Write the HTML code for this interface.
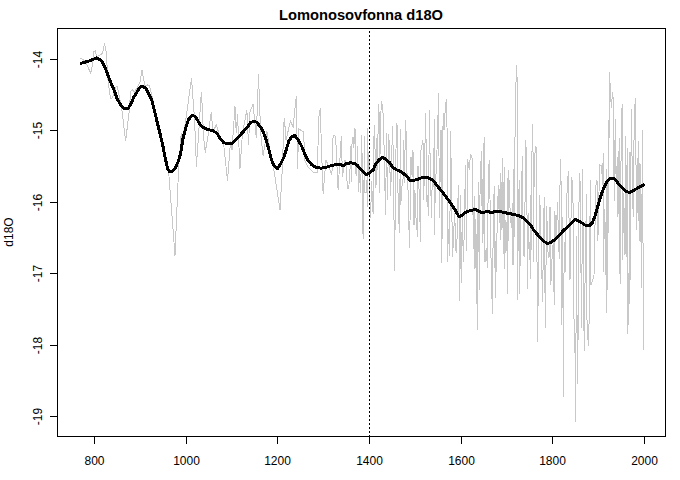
<!DOCTYPE html>
<html><head><meta charset="utf-8"><style>
html,body{margin:0;padding:0;background:#fff;}
svg{display:block;font-family:"Liberation Sans",sans-serif;font-size:12px;}
</style></head><body>
<svg width="680" height="480" viewBox="0 0 680 480">
<text x="361" y="20" text-anchor="middle" font-weight="bold" font-size="14.7">Lomonosovfonna d18O</text>
<text transform="translate(13 232) rotate(-90)" text-anchor="middle">d18O</text>
<text x="94.5" y="465" text-anchor="middle">800</text><text x="186.5" y="465" text-anchor="middle">1000</text><text x="277.5" y="465" text-anchor="middle">1200</text><text x="369.5" y="465" text-anchor="middle">1400</text><text x="461.5" y="465" text-anchor="middle">1600</text><text x="552.5" y="465" text-anchor="middle">1800</text><text x="644.5" y="465" text-anchor="middle">2000</text>
<text transform="translate(41.9 59.5) rotate(-90)" text-anchor="middle">-14</text><text transform="translate(41.9 130.5) rotate(-90)" text-anchor="middle">-15</text><text transform="translate(41.9 202.5) rotate(-90)" text-anchor="middle">-16</text><text transform="translate(41.9 273.5) rotate(-90)" text-anchor="middle">-17</text><text transform="translate(41.9 345.5) rotate(-90)" text-anchor="middle">-18</text><text transform="translate(41.9 416.5) rotate(-90)" text-anchor="middle">-19</text>
<path d="M80.30 58.1 L84.00 60.3 L86.00 63.0 L90.70 73.1 L92.80 63.0 L94.00 51.5 L95.30 50.6 L96.60 56.5 L99.00 55.6 L102.30 53.5 L103.60 48.5 L104.40 43.5 L105.70 48.5 L106.50 55.2 L107.00 65.0 L108.10 81.2 L110.60 98.8 L112.50 97.5 L116.25 86.2 L117.50 86.9 L119.40 97.5 L121.90 110.0 L125.60 141.0 L129.40 110.0 L130.60 91.2 L132.50 90.0 L134.40 92.5 L140.00 82.5 L141.90 70.0 L143.10 76.2 L145.00 86.2 L147.50 85.0 L149.40 85.6 L151.25 92.5 L153.10 100.0 L155.00 110.0 L157.00 120.0 L160.00 134.0 L163.00 148.0 L165.50 160.0 L168.75 173.0 L175.00 255.6 L178.75 165.0 L180.00 150.0 L181.25 133.0 L181.90 141.0 L183.00 135.0 L185.00 125.0 L187.30 109.0 L191.50 78.3 L194.60 120.0 L196.40 166.4 L198.50 136.0 L201.30 92.1 L202.30 107.5 L203.50 136.0 L205.20 152.2 L208.00 136.0 L211.25 112.5 L213.10 132.5 L216.25 124.4 L219.30 135.0 L223.75 145.0 L227.50 180.6 L230.50 142.0 L232.00 150.0 L235.00 106.2 L236.25 132.5 L237.50 115.0 L240.00 168.8 L242.50 132.5 L246.90 110.0 L248.50 145.0 L250.00 112.0 L253.10 103.8 L256.25 137.5 L258.50 75.0 L260.60 132.5 L263.10 156.2 L266.90 131.2 L270.00 150.0 L273.75 168.8 L280.00 210.0 L282.50 165.0 L283.75 125.0 L284.40 118.1 L286.00 140.0 L290.60 120.6 L293.10 127.5 L296.25 96.2 L297.50 168.8 L298.75 128.8 L303.50 131.9 L305.00 161.0 L307.50 166.2 L313.75 172.5 L317.50 173.0 L318.50 120.0 L320.25 108.1 L321.25 141.2 L323.10 193.8 L326.00 160.0 L331.90 175.0 L333.10 135.0 L335.60 136.2 L338.10 190.0 L341.25 136.9 L342.50 176.9 L345.00 160.0 L346.00 163.5 L347.50 188.8 L348.75 188.1 L349.96 171.1 L350.60 146.9 L351.36 181.5 L352.12 138.2 L353.08 137.4 L353.75 148.0 L355.00 128.1 L355.86 173.5 L356.67 175.6 L357.50 146.9 L358.75 191.2 L359.60 165.9 L360.60 192.5 L361.90 135.0 L362.50 230.0 L363.50 238.8 L364.40 136.9 L365.00 192.5 L366.00 192.5 L366.90 192.5 L367.50 128.1 L367.50 206.2 L368.15 163.7 L368.86 152.3 L369.58 190.8 L370.60 217.5 L371.56 181.4 L373.10 213.8 L373.75 143.0 L374.40 125.0 L376.00 187.5 L376.50 139.0 L377.45 169.9 L378.50 104.4 L379.40 118.0 L379.40 192.5 L380.60 118.0 L381.50 101.9 L382.50 106.9 L383.50 118.0 L384.52 171.6 L385.60 214.4 L386.50 133.8 L387.50 200.0 L388.50 134.8 L389.37 144.2 L390.54 195.4 L391.27 174.5 L392.50 126.2 L393.59 164.8 L394.40 270.6 L395.63 189.3 L396.25 123.8 L397.50 126.2 L398.10 205.0 L399.40 232.5 L400.60 129.4 L400.80 204.4 L402.23 182.6 L402.99 179.7 L403.75 140.0 L404.36 183.0 L405.60 120.0 L406.00 130.0 L406.86 173.1 L407.65 174.8 L408.90 226.2 L409.60 247.4 L411.00 157.0 L412.16 177.1 L413.00 150.0 L413.99 225.2 L414.92 190.0 L416.10 220.4 L417.60 236.5 L418.00 165.6 L419.39 197.2 L420.50 241.6 L421.00 150.0 L423.00 140.6 L423.67 199.9 L424.76 156.7 L425.60 113.1 L426.00 137.5 L426.65 201.7 L427.30 195.2 L428.50 216.0 L429.40 110.0 L430.00 151.9 L431.50 217.5 L432.22 179.6 L432.98 188.5 L434.00 148.8 L434.40 119.0 L434.40 235.0 L435.11 197.5 L436.11 172.0 L437.50 137.5 L438.50 93.1 L439.50 217.5 L440.14 173.9 L441.00 130.0 L441.50 262.5 L442.40 222.7 L443.10 113.1 L444.00 130.0 L445.60 103.8 L446.50 100.0 L447.50 153.0 L447.50 261.5 L448.44 229.5 L449.70 255.4 L450.60 131.9 L451.74 204.6 L452.60 257.0 L453.99 226.3 L454.75 213.2 L455.80 250.0 L456.25 252.5 L457.20 235.3 L458.30 185.0 L458.75 185.0 L459.70 300.3 L460.80 195.0 L461.30 282.5 L462.30 215.9 L463.40 261.5 L464.66 218.0 L465.30 165.0 L466.70 250.8 L467.50 159.2 L469.20 169.2 L470.50 154.2 L472.50 159.2 L473.30 248.3 L474.20 196.7 L475.00 269.0 L475.83 219.7 L476.70 288.3 L477.50 329.7 L478.15 181.9 L479.50 290.0 L480.00 195.0 L481.30 151.7 L482.50 242.5 L483.30 143.3 L484.20 258.3 L484.50 137.0 L485.00 261.7 L486.15 248.7 L487.50 267.5 L488.30 168.3 L489.50 160.8 L490.36 225.7 L491.70 290.0 L492.50 313.3 L493.16 230.1 L494.20 186.7 L495.30 297.5 L495.80 241.7 L496.30 271.7 L497.15 226.3 L498.30 185.8 L499.43 222.7 L500.14 182.5 L500.80 173.3 L500.80 240.0 L502.50 158.3 L503.20 253.3 L504.20 167.5 L504.20 268.3 L505.02 219.9 L505.89 253.0 L506.89 234.8 L507.50 178.3 L507.50 293.3 L508.70 170.8 L509.76 202.9 L510.71 222.3 L511.86 217.1 L512.50 264.2 L513.30 169.2 L513.30 264.2 L514.20 230.0 L515.00 136.7 L516.30 65.8 L517.50 85.0 L517.50 299.2 L518.34 219.5 L519.20 180.8 L519.20 293.3 L520.20 260.0 L521.70 180.0 L522.50 156.7 L523.30 255.0 L524.30 256.7 L525.80 140.8 L526.70 168.3 L527.50 288.3 L528.42 213.8 L529.20 260.0 L529.81 253.4 L530.80 195.8 L530.80 278.3 L531.70 168.3 L532.50 124.2 L533.30 168.0 L533.30 261.7 L534.20 169.2 L535.30 146.7 L536.30 147.5 L537.50 341.7 L539.06 234.4 L539.70 195.0 L540.55 221.9 L541.31 245.7 L542.50 301.7 L544.20 197.5 L545.30 327.5 L546.70 206.7 L547.42 239.9 L548.30 258.0 L549.09 256.6 L550.00 206.7 L550.80 285.0 L552.26 254.3 L553.25 241.6 L554.20 304.2 L554.90 211.1 L555.98 241.5 L557.50 203.0 L559.20 258.3 L560.30 159.2 L561.30 190.0 L561.30 324.7 L562.61 217.4 L563.40 396.5 L564.17 242.3 L565.00 273.3 L566.02 228.8 L566.70 198.3 L568.30 171.7 L570.00 280.0 L571.70 177.5 L572.50 183.3 L573.46 220.6 L574.20 352.5 L575.00 352.5 L575.50 421.5 L576.57 236.5 L577.40 383.5 L578.30 320.0 L579.20 173.3 L580.80 187.5 L580.80 256.0 L581.70 327.5 L582.50 170.0 L584.20 350.8 L585.54 239.3 L586.70 194.2 L586.70 313.3 L588.30 345.8 L589.20 318.3 L590.30 180.8 L590.80 180.8 L591.00 285.0 L592.50 280.8 L594.00 275.0 L595.80 186.7 L596.70 180.8 L597.00 180.8 L597.50 240.8 L598.29 232.6 L599.50 164.2 L600.80 165.8 L601.70 165.0 L602.39 184.2 L603.30 153.3 L603.30 271.7 L604.65 209.5 L605.80 248.3 L606.30 312.5 L606.70 169.2 L607.50 289.2 L608.30 120.8 L608.30 232.5 L609.50 73.0 L611.30 107.5 L612.50 93.0 L613.30 100.0 L614.20 200.8 L615.30 119.2 L616.10 180.8 L617.50 157.5 L617.50 216.7 L618.11 213.8 L619.20 138.0 L619.20 250.0 L620.30 283.3 L621.30 113.3 L622.50 104.2 L622.50 260.0 L623.74 193.8 L625.00 255.0 L625.80 136.7 L626.70 256.7 L627.50 148.3 L627.50 333.6 L628.30 273.3 L628.70 325.0 L629.50 272.5 L630.00 151.7 L630.00 280.0 L630.70 206.6 L631.30 109.2 L632.70 200.3 L633.30 216.7 L634.20 120.8 L635.30 98.3 L636.70 230.0 L638.30 141.7 L639.20 240.8 L640.00 163.3 L640.80 210.0 L641.30 287.5 L642.50 130.8 L643.50 349.6" fill="none" stroke="#c8c8c8" stroke-width="1" stroke-linejoin="round" shape-rendering="crispEdges"/>
<path d="M81.0 63.3 L82.5 62.9 L88.8 61.0 L93.1 59.4 L96.5 57.9 L98.8 59.0 L101.9 61.5 L104.4 66.2 L106.9 72.3 L109.4 79.0 L111.9 85.0 L114.4 91.0 L116.9 98.1 L120.0 103.9 L123.0 107.8 L125.5 109.0 L128.2 108.4 L131.2 103.5 L133.8 97.0 L137.5 91.2 L140.6 86.5 L143.8 86.9 L146.2 88.6 L148.8 93.8 L151.9 100.6 L153.8 108.0 L156.3 118.5 L159.0 129.5 L162.4 143.5 L165.3 158.1 L167.5 168.3 L169.7 172.0 L172.6 171.0 L175.5 167.6 L178.4 161.0 L180.6 153.8 L182.8 139.2 L185.7 128.2 L188.6 119.5 L191.6 115.8 L194.5 116.1 L196.7 118.8 L199.6 123.9 L203.5 127.6 L207.5 129.3 L212.5 130.6 L216.9 133.1 L220.0 138.5 L223.8 142.8 L228.1 143.8 L232.5 143.1 L236.2 139.4 L240.0 135.2 L243.8 131.2 L247.5 126.9 L250.6 122.5 L253.8 121.5 L256.9 122.2 L259.4 125.6 L262.5 130.0 L265.0 136.5 L267.2 143.5 L269.3 151.0 L271.5 160.0 L274.4 166.2 L277.5 168.8 L280.6 163.8 L283.8 157.5 L286.2 150.0 L288.8 141.2 L291.2 137.5 L294.4 135.2 L296.9 138.1 L300.0 143.1 L302.5 148.1 L305.0 154.4 L308.1 160.5 L311.9 165.0 L316.2 167.5 L321.2 168.2 L326.2 167.2 L331.2 165.6 L336.2 164.4 L340.5 164.6 L343.1 165.6 L346.2 163.8 L350.0 162.9 L354.4 163.1 L357.5 165.6 L361.2 169.4 L365.0 173.8 L366.9 174.4 L370.0 172.5 L373.1 170.0 L375.6 164.4 L378.8 160.0 L382.5 157.5 L385.6 158.8 L389.4 162.5 L393.1 167.5 L396.9 170.0 L400.0 171.2 L403.8 173.8 L407.5 176.9 L410.0 180.8 L414.0 180.2 L418.8 178.9 L422.5 177.5 L426.2 177.2 L430.0 178.5 L433.8 181.2 L437.5 186.2 L441.2 190.6 L445.0 195.6 L448.8 200.6 L452.5 206.2 L455.6 210.6 L458.8 216.5 L461.9 215.5 L465.6 212.5 L470.0 210.6 L475.6 209.4 L478.8 211.2 L482.5 212.8 L486.9 211.5 L491.2 212.3 L494.4 211.9 L498.8 211.2 L503.8 212.5 L508.8 213.5 L513.8 214.4 L518.8 215.6 L522.5 217.5 L526.2 220.6 L530.0 224.4 L533.8 230.2 L537.5 234.6 L541.2 238.5 L544.0 241.5 L547.5 243.4 L551.0 242.5 L555.0 239.3 L558.8 235.9 L562.5 231.5 L566.2 228.0 L570.0 224.7 L575.0 219.2 L580.0 221.7 L585.0 225.0 L589.2 225.8 L592.5 222.5 L595.0 215.8 L597.5 207.5 L600.0 198.3 L603.3 189.2 L606.7 181.7 L610.0 178.7 L613.3 178.3 L616.7 181.3 L620.8 186.7 L625.0 190.8 L629.2 192.5 L633.3 190.8 L638.3 187.5 L643.3 185.0" fill="none" stroke="#000" stroke-width="3" stroke-linejoin="round" stroke-linecap="round" shape-rendering="crispEdges"/>
<path d="M369.5 31V436" stroke="#000" stroke-width="1" stroke-dasharray="2 2" shape-rendering="crispEdges"/>
<rect x="57.5" y="28.5" width="608" height="408" fill="none" stroke="#000" stroke-width="1"/><path d="M94.5 436V444M186.5 436V444M277.5 436V444M369.5 436V444M461.5 436V444M552.5 436V444M644.5 436V444" stroke="#000" stroke-width="1" fill="none"/><path d="M50 59.5H57M50 130.5H57M50 202.5H57M50 273.5H57M50 345.5H57M50 416.5H57" stroke="#000" stroke-width="1" fill="none"/>
</svg>
</body></html>
